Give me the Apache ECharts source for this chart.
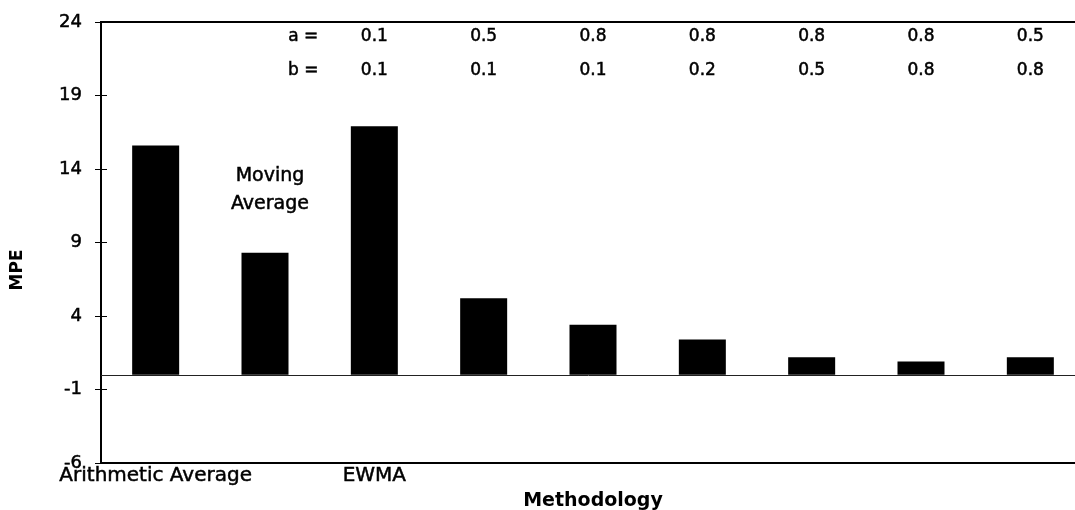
<!DOCTYPE html>
<html>
<head>
<meta charset="utf-8">
<script src="https://cdn.jsdelivr.net/npm/echarts@6/dist/echarts.min.js"></script>
<style>
html,body{margin:0;padding:0;background:#fff;}
#chart{width:1075px;height:510px;}
</style>
</head>
<body>
<div id="chart"></div>
<script>
// ---- data ----
var categories = ['Arithmetic Average', 'Moving Average', 'EWMA', 'c4', 'c5', 'c6', 'c7', 'c8', 'c9'];
var axisLabels = ['Arithmetic Average', '', 'EWMA', '', '', '', '', '', ''];
var mpeValues = [15.6, 8.3, 16.9, 5.2, 3.4, 2.4, 1.2, 0.9, 1.2];
var aValues = ['0.1', '0.5', '0.8', '0.8', '0.8', '0.8', '0.5'];
var bValues = ['0.1', '0.1', '0.1', '0.2', '0.5', '0.8', '0.8'];
var paramStartIndex = 2;
var yMin = -6, yMax = 24, yInterval = 5;
var aRowValue = 23.0, bRowValue = 20.7;
var movingAvgLabelValue = 12.6;

var FONT = 'DejaVu Sans';
var thick = { textBorderColor: '#000', textBorderWidth: 0.5 };

var paramData = [];
aValues.forEach(function (v, i) { paramData.push({ value: [paramStartIndex + i, aRowValue], text: v }); });
bValues.forEach(function (v, i) { paramData.push({ value: [paramStartIndex + i, bRowValue], text: v }); });
paramData.push({ value: [paramStartIndex, aRowValue], text: 'a =', label: { offset: [-71, 0] } });
paramData.push({ value: [paramStartIndex, bRowValue], text: 'b =', label: { offset: [-71, 0] } });
paramData.push({ value: [1, movingAvgLabelValue], text: 'Moving\nAverage', label: { fontSize: 19, lineHeight: 28, offset: [5, 0] } });

var chart = echarts.init(document.getElementById('chart'), null, { renderer: 'canvas' });
chart.setOption({
  animation: false,
  backgroundColor: '#fff',
  grid: {
    left: 101, right: -10, top: 22, bottom: 47,
    show: true, borderColor: '#000', borderWidth: 2, backgroundColor: 'transparent',
    containLabel: false, outerBoundsMode: 'none'
  },
  xAxis: {
    type: 'category',
    data: categories,
    axisLine: { onZero: false, lineStyle: { color: '#000', width: 2 } },
    axisTick: { show: false },
    axisLabel: Object.assign({
      interval: 0, margin: 3, color: '#000', fontFamily: FONT, fontSize: 20,
      formatter: function (v, i) { return axisLabels[i]; }
    }, thick),
    name: 'Methodology',
    nameLocation: 'middle',
    nameGap: 25,
    nameTextStyle: { color: '#000', fontFamily: FONT, fontSize: 19, fontWeight: 'bold' }
  },
  yAxis: [{
    type: 'value', min: yMin, max: yMax, interval: yInterval,
    axisLine: { show: true, lineStyle: { color: '#000', width: 2 } },
    axisTick: { show: true, length: 6, lineStyle: { color: '#000', width: 1 } },
    axisLabel: Object.assign({ margin: 19, color: '#000', fontFamily: FONT, fontSize: 18 }, thick),
    splitLine: { show: false }
  }, {
    type: 'value', min: yMin, max: yMax, interval: yInterval, position: 'left',
    axisLine: { show: false },
    axisTick: { show: true, inside: true, length: 6, lineStyle: { color: '#000', width: 1 } },
    axisLabel: { show: false },
    splitLine: { show: false }
  }],
  graphic: [{
    type: 'text', x: 18, y: 270, rotation: Math.PI / 2,
    style: { text: 'MPE', fill: '#000', font: 'bold 17px "DejaVu Sans"', textAlign: 'center', textVerticalAlign: 'middle' }
  }],
  series: [{
    type: 'bar',
    data: mpeValues,
    barWidth: 47,
    itemStyle: { color: '#000' },
    markLine: {
      silent: true, symbol: ['none', 'none'],
      label: { show: false },
      lineStyle: { color: '#222', width: 1, type: 'solid' },
      data: [{ yAxis: 0 }]
    }
  }, {
    type: 'scatter',
    data: paramData,
    symbolSize: 1,
    itemStyle: { color: 'rgba(0,0,0,0)', opacity: 1 },
    silent: true,
    label: Object.assign({
      show: true, position: 'inside', color: '#000', opacity: 1, fontFamily: FONT, fontSize: 17,
      formatter: function (p) { return p.data.text; }
    }, thick)
  }]
});
</script>
</body>
</html>
